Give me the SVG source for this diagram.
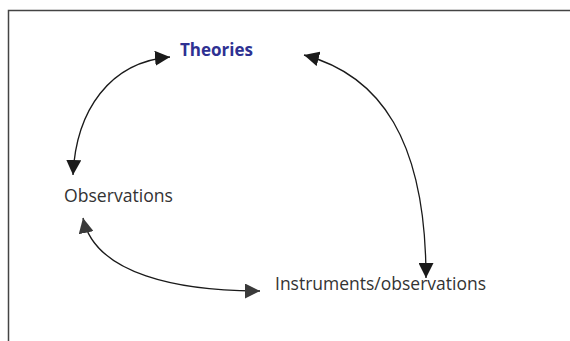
<svg xmlns="http://www.w3.org/2000/svg" width="570" height="341" viewBox="0 0 570 341">
<defs>
<marker id="ah" viewBox="0 0 10 10" refX="10" refY="5" markerWidth="15" markerHeight="15" markerUnits="userSpaceOnUse" orient="auto-start-reverse">
<path d="M0 0 L10 5 L0 10 Z" fill="#1a1a1a"/>
</marker>
<marker id="ah2" viewBox="0 0 10 10" refX="10" refY="5" markerWidth="15" markerHeight="15" markerUnits="userSpaceOnUse" orient="auto-start-reverse">
<path d="M0 0 L10 5 L0 10 Z" fill="#3a3a3a"/>
</marker>
</defs>
<style>
.lbl{font-family:"Open Sans","Noto Sans",sans-serif;font-size:17.5px;fill:#333;font-weight:400}
.title{font-family:"Open Sans","Noto Sans",sans-serif;font-size:17px;font-weight:700;fill:#2e3192}
.edge{fill:none;stroke:#1a1a1a;stroke-width:1.3}
</style>
<rect width="570" height="341" fill="#fff"/>
<path d="M8.5 341 V10.5 H570" fill="none" stroke="#444" stroke-width="1.5"/>
<g id="connectors">
<path class="edge" d="M73 175 C 76 110, 110 62, 170 57" marker-start="url(#ah)" marker-end="url(#ah)"/>
<path class="edge" d="M304 55 C 380 75, 426 140, 426 278" marker-start="url(#ah)" marker-end="url(#ah)"/>
<path class="edge" d="M83 218 C 95 275, 180 291, 260 291" stroke="#3a3a3a" marker-start="url(#ah2)" marker-end="url(#ah2)"/>
</g>
<g id="theories"><text class="title" x="216.5" y="56" text-anchor="middle">Theories</text></g>
<g id="observations"><text class="lbl" x="64" y="202" textLength="109" lengthAdjust="spacingAndGlyphs">Observations</text></g>
<g id="instruments"><text class="lbl" x="275" y="290" textLength="211" lengthAdjust="spacingAndGlyphs">Instruments/observations</text></g>
</svg>
